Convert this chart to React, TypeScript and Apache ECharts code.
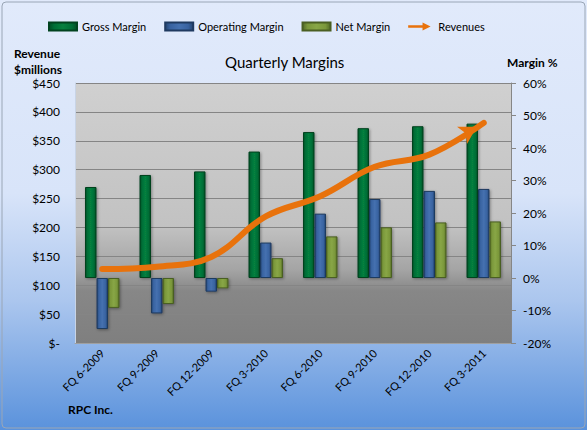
import React, { useEffect, useRef } from "react";
import * as echarts from "echarts";

const categories = ["FQ 6-2009", "FQ 9-2009", "FQ 12-2009", "FQ 3-2010", "FQ 6-2010", "FQ 9-2010", "FQ 12-2010", "FQ 3-2011"];
const grossMargin = [28.0, 31.7, 32.8, 38.9, 44.9, 46.1, 46.7, 47.5];
const operatingMargin = [-15.7, -10.9, -4.2, 10.9, 19.8, 24.3, 26.8, 27.4];
const netMargin = [-9.2, -8.0, -3.2, 6.1, 12.8, 15.6, 17.1, 17.4];
const revenues = [128, 132, 149, 219, 254, 305, 326, 381];

const FONT = "Lato, 'Open Sans', sans-serif";

function barFill(dark: string, mid: string, light: string) {
  return new echarts.graphic.LinearGradient(0, 0, 1, 0, [
    { offset: 0, color: dark },
    { offset: 0.18, color: mid },
    { offset: 0.5, color: light },
    { offset: 0.82, color: mid },
    { offset: 1, color: dark },
  ]);
}

export default function App() {
  const ref = useRef<HTMLDivElement>(null);
  useEffect(() => {
    if (!ref.current) return;
    const chart = echarts.init(ref.current, undefined, { renderer: "svg" });
    const lastIdx = revenues.length - 1;
    const revData = revenues.map((v, i) =>
      i === lastIdx
        ? { value: v, symbol: "arrow", symbolSize: [15, 17], symbolRotate: -60, symbolOffset: [-7, 4] }
        : { value: v, symbol: "none" }
    );
    chart.setOption({
      animation: false,
      backgroundColor: new echarts.graphic.LinearGradient(0, 0, 0, 1, [
        { offset: 0, color: "#e1eafb" },
        { offset: 0.45, color: "#d8e4f9" },
        { offset: 0.7, color: "#abc6ee" },
        { offset: 1, color: "#5a92dc" },
      ]),
      textStyle: { fontFamily: FONT },
      legend: {
        left: 43,
        top: 16,
        itemWidth: 28,
        itemHeight: 8,
        itemGap: 18,
        textStyle: { fontSize: 11, color: "#000", fontFamily: FONT },
        data: [
          { name: "Gross Margin", icon: "rect" },
          { name: "Operating Margin", icon: "rect" },
          { name: "Net Margin", icon: "rect" },
          { name: "Revenues", icon: "path://M0,3.5 L18,3.5 L18,0 L28,5 L18,10 L18,6.5 L0,6.5 Z" },
        ],
      },
      grid: { left: 75, top: 83, width: 436, height: 260, show: true, borderWidth: 0,
        backgroundColor: new echarts.graphic.LinearGradient(0, 0, 0, 1, [
          { offset: 0, color: "#d0d0d0" },
          { offset: 0.55, color: "#c2c2c2" },
          { offset: 0.72, color: "#a4a4a4" },
          { offset: 0.8, color: "#878787" },
          { offset: 1, color: "#7f7f7f" },
        ]) },
      graphic: [
        { type: "rect", shape: { x: 2, y: 2, width: 583, height: 426, r: 4 }, style: { fill: "none", stroke: "#9aa6b6", lineWidth: 1 }, silent: true },
        { type: "text", left: 14, top: 45, style: { text: "Revenue\n$millions", font: `bold 12px ${FONT}`, fill: "#000", lineHeight: 16 } },
        { type: "text", left: 225, top: 54, style: { text: "Quarterly Margins", font: `15px ${FONT}`, fill: "#000" } },
        { type: "text", left: 507, top: 56, style: { text: "Margin %", font: `bold 12px ${FONT}`, fill: "#000" } },
        { type: "text", left: 68, top: 403, style: { text: "RPC Inc.", font: `bold 12px ${FONT}`, fill: "#000" } },
      ],
      xAxis: {
        type: "category",
        data: categories,
        axisLine: { show: true, lineStyle: { color: "#a0a0a0" } },
        axisTick: { show: false },
        axisLabel: { rotate: 45, fontSize: 11, color: "#000", margin: 8, interval: 0, fontFamily: FONT },
      },
      yAxis: [
        {
          type: "value",
          min: 0,
          max: 450,
          interval: 50,
          position: "left",
          axisLine: { show: true, lineStyle: { color: "#c8d4e6" } },
          axisTick: { show: false },
          splitLine: { show: true, lineStyle: { color: "#858585", width: 1 } },
          axisLabel: { fontSize: 12, color: "#000", margin: 15, fontFamily: FONT,
            formatter: (v: number) => (v === 0 ? "$-" : "$" + v) },
        },
        {
          type: "value",
          min: -20,
          max: 60,
          interval: 10,
          position: "right",
          axisLine: { show: true, lineStyle: { color: "#868686" } },
          axisTick: { show: true, inside: false, length: 5, lineStyle: { color: "#868686" } },
          splitLine: { show: false },
          axisLabel: { fontSize: 12, color: "#000", margin: 12, fontFamily: FONT,
            formatter: (v: number) => v + "%" },
        },
      ],
      series: [
        {
          name: "Gross Margin",
          type: "bar",
          yAxisIndex: 1,
          data: grossMargin,
          barWidth: 11.5,
          barGap: "0%",
          itemStyle: { color: barFill("#014d25", "#006d36", "#07803f"), borderColor: "#01431f", borderWidth: 1,
            shadowColor: "rgba(0,0,0,0.35)", shadowBlur: 3, shadowOffsetX: 1, shadowOffsetY: 1 },
        },
        {
          name: "Operating Margin",
          type: "bar",
          yAxisIndex: 1,
          data: operatingMargin,
          barWidth: 11.5,
          barGap: "0%",
          itemStyle: { color: barFill("#24436e", "#3862a0", "#4571b0"), borderColor: "#1f3a60", borderWidth: 1,
            shadowColor: "rgba(0,0,0,0.35)", shadowBlur: 3, shadowOffsetX: 1, shadowOffsetY: 1 },
        },
        {
          name: "Net Margin",
          type: "bar",
          yAxisIndex: 1,
          data: netMargin,
          barWidth: 11.5,
          barGap: "0%",
          itemStyle: { color: barFill("#526a27", "#7a973a", "#88a646"), borderColor: "#4a5f22", borderWidth: 1,
            shadowColor: "rgba(0,0,0,0.35)", shadowBlur: 3, shadowOffsetX: 1, shadowOffsetY: 1 },
        },
        {
          name: "Revenues",
          type: "line",
          yAxisIndex: 0,
          data: revData,
          smooth: 0.4,
          showSymbol: true,
          symbol: "none",
          lineStyle: { color: "#e8720c", width: 6, cap: "round" },
          itemStyle: { color: "#e8720c" },
          z: 5,
        },
      ],
    });
    return () => chart.dispose();
  }, []);
  return <div ref={ref} style={{ position: "fixed", left: 0, top: 0, width: 587, height: 430 }} />;
}
